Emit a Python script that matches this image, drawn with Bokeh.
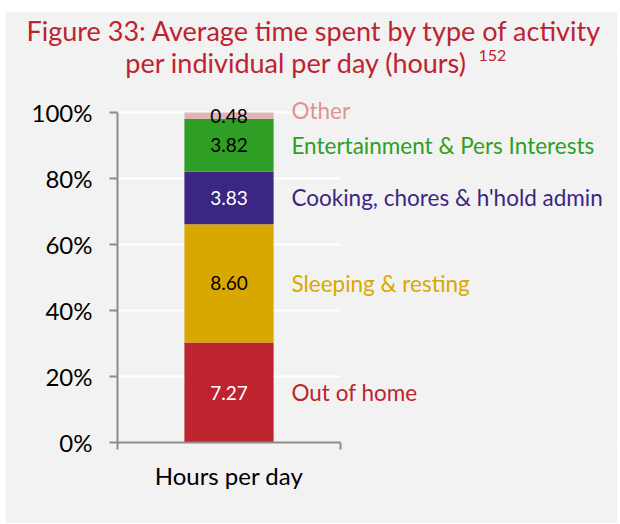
import numpy as np
from bokeh.plotting import figure
from bokeh.models import Range1d, FixedTicker, Label, LabelSet, ColumnDataSource
from bokeh.core.properties import value
from bokeh.embed import file_html
from bokeh.resources import INLINE

# ---- data ----
categories = ["Out of home", "Sleeping & resting", "Cooking, chores & h'hold admin",
              "Entertainment & Pers Interests", "Other"]
hours = [7.27, 8.60, 3.83, 3.82, 0.48]
value_text = ["7.27", "8.60", "3.83", "3.82", "0.48"]
bar_label = "Hours per day"
y_ticks = [0, 0.2, 0.4, 0.6, 0.8, 1.0]
y_tick_labels = ["0%", "20%", "40%", "60%", "80%", "100%"]
title_line1 = "Figure 33: Average time spent by type of activity"
title_line2 = "per individual per day (hours)"
title_note = "152"

# ---- styles ----
bar_colors = ["#BE2330", "#D9A800", "#3B2683", "#2E9E25", "#E0B4B4"]
label_colors = ["#BE2330", "#D9A800", "#3B2683", "#2E9E25", "#E29195"]
value_colors = ["white", "black", "white", "black", "black"]
label_dy = [0, 0, 0, 0, 5]
FONT = "Lato"
BG = "#F2F2F2"
AXIS = "#8C8C8C"
TITLE_C = "#BE2330"

share = np.array(hours) / np.sum(hours)
top = np.cumsum(share)
bottom = top - share
mid = (top + bottom) / 2

src = ColumnDataSource(dict(
    cat=categories, top=top, bottom=bottom, mid=mid, x=[0.5] * len(hours),
    lx=[0.78] * len(hours), color=bar_colors, lcolor=label_colors,
    vcolor=value_colors, vtext=value_text, dy=label_dy,
))

p = figure(width=612, height=512, output_backend="svg", toolbar_location=None,
           margin=(11, 0, 0, 5),
           x_range=Range1d(0, 500 / 223), y_range=Range1d(0, 394 / 330),
           min_border_left=112, min_border_right=0, min_border_top=37,
           min_border_bottom=81)
p.background_fill_color = BG
p.border_fill_color = BG
p.outline_line_color = None
p.xgrid.visible = False
p.ygrid.visible = False

p.title.text = title_line1
p.title.align = "left"
p.title.vertical_align = "top"
p.title.offset = -91
p.title.standoff = 0
p.title.text_font = FONT
p.title.text_font_size = "27px"
p.title.text_font_style = "normal"
p.title.text_color = TITLE_C

# gridlines (only across the category band)
gy = [t for t in y_ticks if t > 0]
p.segment(x0=[0] * len(gy), x1=[1] * len(gy), y0=gy, y1=gy, line_color="white", line_width=2)

p.vbar(x="x", width=0.4, bottom="bottom", top="top", fill_color="color",
       line_color=None, source=src)

# axes
p.yaxis.ticker = FixedTicker(ticks=y_ticks)
p.yaxis.major_label_overrides = {t: l for t, l in zip(y_ticks, y_tick_labels)}
p.yaxis.bounds = (0, 1)
p.yaxis.axis_line_color = AXIS
p.yaxis.axis_line_width = 2
p.yaxis.major_tick_line_color = AXIS
p.yaxis.major_tick_line_width = 2
p.yaxis.major_tick_out = 8
p.yaxis.major_tick_in = 0
p.yaxis.minor_tick_line_color = None
p.yaxis.major_label_standoff = 17
p.yaxis.major_label_text_font = FONT
p.yaxis.major_label_text_font_size = "24px"
p.yaxis.major_label_text_color = "black"

p.xaxis.ticker = FixedTicker(ticks=[0.5], minor_ticks=[0, 1])
p.xaxis.major_label_overrides = {0.5: bar_label}
p.xaxis.bounds = (0, 1)
p.xaxis.axis_line_color = AXIS
p.xaxis.axis_line_width = 2
p.xaxis.major_tick_line_color = None
p.xaxis.minor_tick_line_color = AXIS
p.xaxis.minor_tick_line_width = 2
p.xaxis.minor_tick_out = 7
p.xaxis.minor_tick_in = 0
p.xaxis.major_label_standoff = 11
p.xaxis.major_label_text_font = FONT
p.xaxis.major_label_text_font_size = "24px"
p.xaxis.major_label_text_color = "black"

# value labels
p.add_layout(LabelSet(x="x", y="mid", text="vtext", source=src, text_align="center",
                      text_baseline="middle", text_color="vcolor", text_font=value(FONT),
                      text_font_size=value("19px")))
# category labels
p.add_layout(LabelSet(x="lx", y="mid", y_offset="dy", text="cat", source=src,
                      text_align="left", text_baseline="middle", text_color="lcolor",
                      text_font=value(FONT), text_font_size=value("22.5px")))

# title second line + note
p.add_layout(Label(x=179 / 223, y=380 / 330, text=title_line2, text_align="center",
                   text_baseline="alphabetic", text_color=TITLE_C, text_font=FONT,
                   text_font_size="27px"))
p.add_layout(Label(x=361 / 223, y=387 / 330, text=title_note, text_align="left",
                   text_baseline="alphabetic", text_color=TITLE_C, text_font=FONT,
                   text_font_size="16px"))

open("out.html", "w").write(file_html(p, INLINE))
